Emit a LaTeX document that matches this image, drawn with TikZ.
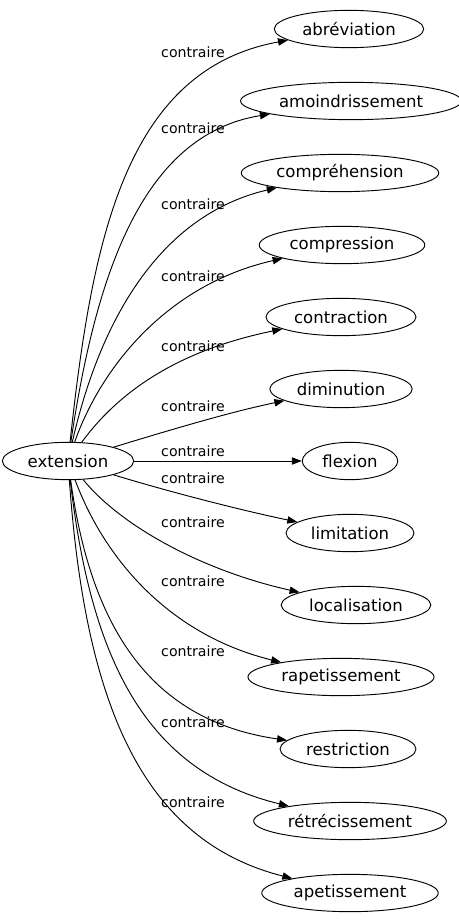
\documentclass[tikz,border=0pt]{standalone}
\usepackage{fontspec}
\setmainfont{DejaVu Sans}
\usetikzlibrary{shapes.geometric, arrows.meta}
\tikzstyle{word} = [ellipse, draw=black, line width=0.7pt, inner xsep=4.6pt, inner ysep=1pt, minimum height=28pt, font=\fontsize{12.4}{14}\selectfont]
\tikzstyle{rel} = [inner sep=0pt, font=\fontsize{10.6}{12}\selectfont]
\tikzstyle{arrow} = [line width=0.7pt, -{Triangle[length=7.5pt, width=5.5pt]}]

\begin{document}
\begin{tikzpicture}[x=0.75pt, y=-0.75pt]
\useasboundingbox (0,0) rectangle (458,923);
\node (ext) [word] at (68,461) {extension};
\node (abr) [word] at (349,29) {abréviation};
\node (amo) [word] at (351,101) {amoindrissement};
\node (cph) [word] at (340,173) {compréhension};
\node (cps) [word] at (342,245) {compression};
\node (ctr) [word] at (341,317) {contraction};
\node (dim) [word] at (341,389) {diminution};
\node (flx) [word] at (350,461) {flexion};
\node (lim) [word] at (350,533) {limitation};
\node (loc) [word] at (356,605) {localisation};
\node (rap) [word] at (341,677) {rapetissement};
\node (rst) [word] at (348,749) {restriction};
\node (rtr) [word] at (350,821) {rétrécissement};
\node (ape) [word] at (350,893) {apetissement};

\node (l1) [rel] at (193,52) {contraire};
\node (l2) [rel] at (193,128) {contraire};
\node (l3) [rel] at (193,204) {contraire};
\node (l4) [rel] at (193,276) {contraire};
\node (l5) [rel] at (193,346) {contraire};
\node (l6) [rel] at (193,406) {contraire};
\node (l7) [rel] at (193,451) {contraire};
\node (l8) [rel] at (193,478) {contraire};
\node (l9) [rel] at (193,522) {contraire};
\node (l10) [rel] at (193,581) {contraire};
\node (l11) [rel] at (193,651) {contraire};
\node (l12) [rel] at (193,722) {contraire};
\node (l13) [rel] at (193,802) {contraire};

\draw [arrow] (ext) .. controls (92,240) and (125,70) .. (abr);
\draw [arrow] (ext) .. controls (95,280) and (140,135) .. (amo);
\draw [arrow] (ext) .. controls (100,320) and (160,215) .. (cph);
\draw [arrow] (ext) .. controls (100,370) and (165,285) .. (cps);
\draw [arrow] (ext) .. controls (120,390) and (180,350) .. (ctr);
\draw [arrow] (ext) .. controls (170,430) and (230,412) .. (dim);
\draw [arrow] (ext) -- (flx);
\draw [arrow] (ext) .. controls (170,492) and (240,510) .. (lim);
\draw [arrow] (ext) .. controls (120,525) and (200,570) .. (loc);
\draw [arrow] (ext) .. controls (105,560) and (170,635) .. (rap);
\draw [arrow] (ext) .. controls (90,620) and (145,720) .. (rst);
\draw [arrow] (ext) .. controls (90,650) and (140,770) .. (rtr);
\draw [arrow] (ext) .. controls (85,700) and (140,840) .. (ape);

\end{tikzpicture}
\end{document}
